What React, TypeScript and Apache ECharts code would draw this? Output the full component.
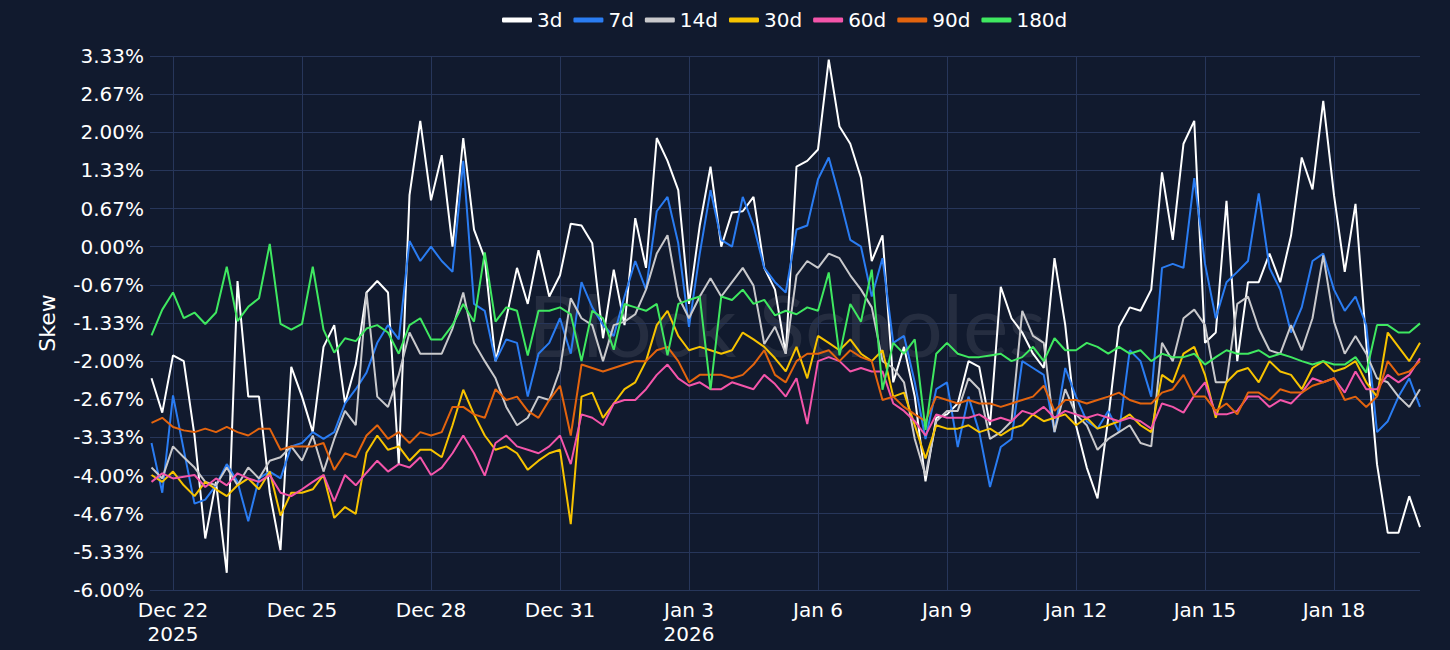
import { useEffect, useRef } from "react";
import * as echarts from "echarts";

// sampling: one value every 6 hours, x in days from Dec 22 2025 00:00
const sampleStart = -0.5;
const sampleStep = 0.25;

const tickDays = [0, 3, 6, 9, 12, 15, 18, 21, 24, 27];
const tickLabels = ["Dec 22\n2025", "Dec 25", "Dec 28", "Dec 31", "Jan 3\n2026", "Jan 6", "Jan 9", "Jan 12", "Jan 15", "Jan 18"];

const seriesNames = ["3d", "7d", "14d", "30d", "60d", "90d", "180d"];
const seriesColors = ["#ffffff", "#2a7cf2", "#c9c9cc", "#f7c300", "#f455aa", "#e3640e", "#3fe860"];

const skew3d = [
  -2.3, -2.9, -1.9, -2.0, -3.3, -5.1, -4.11, -5.7, -0.6, -2.62,
  -2.62, -4.3, -5.3, -2.1, -2.62, -3.24, -1.75, -1.37, -2.74, -2.06,
  -0.8, -0.6, -0.8, -3.8, 0.9, 2.2, 0.81, 1.6, 0.0, 1.9,
  0.3, -0.2, -2.0, -1.25, -0.37, -1.0, -0.06, -0.87, -0.5, 0.4,
  0.37, 0.06, -1.6, -0.4, -1.37, 0.5, -0.37, 1.9, 1.5, 0.99,
  -1.0, 0.37, 1.4, 0.0, 0.6, 0.62, 0.87, -0.37, -0.75, -1.87,
  1.4, 1.5, 1.7, 3.27, 2.1, 1.8, 1.2, -0.25, 0.2, -2.37,
  -1.75, -2.62, -4.1, -2.99, -2.93, -2.74, -2.0, -2.1, -3.12, -0.7,
  -1.25, -1.5, -1.87, -2.12, -0.2, -1.37, -3.12, -3.86, -4.4, -3.0,
  -1.4, -1.06, -1.12, -0.75, 1.3, 0.12, 1.8, 2.2, -1.68, -1.5,
  0.8, -2.0, -0.62, -0.62, -0.12, -0.62, 0.19, 1.56, 1.0, 2.55,
  0.9, -0.44, 0.75, -1.68, -3.8, -5.0, -5.0, -4.36, -4.9,
];

const skew7d = [
  -3.43, -4.3, -2.6, -3.55, -4.49, -4.42, -4.17, -3.8, -4.11, -4.8,
  -4.05, -3.93, -4.05, -3.49, -3.43, -3.24, -3.36, -3.24, -2.74, -2.49,
  -2.2, -1.68, -1.37, -1.62, 0.1, -0.25, 0.0, -0.25, -0.44, 1.5,
  -1.0, -1.12, -2.0, -1.62, -1.68, -2.62, -1.87, -1.68, -1.25, -1.87,
  -0.62, -1.06, -1.37, -1.56, -0.87, -0.25, -0.75, 0.62, 0.87, 0.06,
  -1.4, -0.12, 0.99, 0.12, 0.0, 0.87, 0.37, -0.37, -0.62, -0.8,
  0.3, 0.37, 1.18, 1.56, 0.87, 0.12, 0.0, -0.87, -0.2, -1.68,
  -1.56, -2.37, -3.36, -2.49, -2.37, -3.5, -2.62, -3.24, -4.2, -3.5,
  -3.36, -2.0, -2.12, -2.24, -3.24, -2.12, -2.62, -3.05, -3.18, -2.87,
  -3.24, -1.81, -2.0, -2.62, -0.37, -0.3, -0.37, 1.2, -0.3, -1.25,
  -0.62, -0.44, -0.25, 0.93, -0.37, -0.75, -1.5, -1.06, -0.25, -0.12,
  -0.75, -1.12, -0.87, -1.37, -3.24, -3.05, -2.62, -2.3, -2.8,
];

const skew14d = [
  -3.86, -4.05, -3.49, -3.68, -3.86, -4.11, -4.17, -3.86, -4.17, -3.86,
  -4.05, -3.74, -3.68, -3.49, -3.74, -3.3, -3.93, -3.36, -2.87, -3.12,
  -0.8, -2.62, -2.8, -2.24, -1.5, -1.87, -1.87, -1.87, -1.43, -0.8,
  -1.68, -2.0, -2.3, -2.8, -3.12, -2.99, -2.62, -2.68, -2.15, -0.9,
  -1.25, -1.37, -2.0, -1.37, -1.31, -1.18, -0.75, -0.12, 0.2, -0.87,
  -1.25, -0.87, -0.55, -0.87, -0.62, -0.37, -0.68, -1.7, -1.4, -1.87,
  -0.5, -0.25, -0.37, -0.12, -0.2, -0.5, -0.75, -1.06, -2.0, -2.12,
  -2.37, -3.36, -4.0, -3.05, -2.87, -2.87, -2.3, -2.49, -3.36, -3.24,
  -3.05, -1.12, -1.56, -1.68, -3.24, -2.49, -2.93, -3.12, -3.55, -3.36,
  -3.24, -3.12, -3.43, -3.49, -1.68, -2.0, -1.25, -1.1, -1.37, -2.37,
  -2.37, -1.0, -0.87, -1.43, -1.81, -1.87, -1.37, -1.81, -1.25, -0.15,
  -1.31, -1.87, -1.56, -1.87, -2.3, -2.37, -2.62, -2.8, -2.49,
];

const skew30d = [
  -3.99, -4.11, -3.93, -4.17, -4.36, -4.11, -4.24, -4.36, -4.17, -4.05,
  -4.24, -3.93, -4.7, -4.3, -4.3, -4.24, -3.99, -4.74, -4.55, -4.67,
  -3.6, -3.3, -3.55, -3.49, -3.74, -3.55, -3.55, -3.68, -3.12, -2.5,
  -2.93, -3.3, -3.55, -3.49, -3.61, -3.9, -3.74, -3.61, -3.55, -4.85,
  -2.62, -2.55, -2.99, -2.74, -2.49, -2.37, -2.0, -1.37, -1.12, -1.56,
  -1.81, -1.75, -1.81, -1.87, -1.81, -1.5, -1.62, -1.75, -1.95, -2.18,
  -1.75, -2.3, -1.56, -1.68, -1.81, -1.62, -1.87, -2.0, -1.81, -2.62,
  -2.55, -3.12, -3.7, -3.12, -3.18, -3.18, -3.12, -3.24, -3.18, -3.3,
  -3.18, -3.12, -2.93, -3.05, -2.99, -2.93, -3.12, -2.99, -3.18, -3.12,
  -3.05, -2.93, -3.12, -3.24, -2.24, -2.37, -1.87, -1.75, -2.24, -2.99,
  -2.37, -2.18, -2.12, -2.37, -2.0, -2.18, -2.24, -2.49, -2.12, -2.0,
  -2.18, -2.12, -2.0, -2.37, -2.62, -1.5, -1.75, -2.0, -1.68,
];

const skew60d = [
  -4.11, -3.96, -4.05, -4.02, -3.99, -4.2, -4.05, -4.17, -3.96, -4.05,
  -4.11, -3.99, -4.3, -4.36, -4.24, -4.11, -3.99, -4.45, -3.99, -4.17,
  -3.95, -3.74, -3.93, -3.8, -3.86, -3.68, -3.99, -3.86, -3.61, -3.3,
  -3.61, -4.0, -3.43, -3.3, -3.49, -3.55, -3.61, -3.49, -3.3, -3.8,
  -2.93, -2.99, -3.12, -2.74, -2.68, -2.68, -2.49, -2.24, -2.06, -2.3,
  -2.43, -2.37, -2.49, -2.49, -2.37, -2.43, -2.49, -2.24, -2.4, -2.62,
  -2.3, -3.1, -2.0, -1.93, -2.0, -2.18, -2.12, -2.18, -2.18, -2.74,
  -2.87, -3.05, -3.3, -2.93, -2.99, -2.99, -2.99, -2.93, -3.05, -2.99,
  -3.05, -2.87, -2.93, -2.8, -2.99, -2.87, -2.93, -2.99, -2.93, -2.99,
  -3.05, -2.99, -3.05, -3.18, -2.74, -2.8, -2.9, -2.6, -2.37, -2.93,
  -2.93, -2.87, -2.62, -2.62, -2.8, -2.68, -2.74, -2.55, -2.3, -2.37,
  -2.3, -2.55, -2.18, -2.49, -2.49, -2.24, -2.37, -2.24, -1.95,
];

const skew90d = [
  -3.08, -2.99, -3.15, -3.21, -3.24, -3.18, -3.24, -3.15, -3.24, -3.3,
  -3.18, -3.18, -3.55, -3.49, -3.49, -3.49, -3.43, -3.9, -3.61, -3.68,
  -3.3, -3.12, -3.36, -3.24, -3.43, -3.24, -3.3, -3.24, -2.8, -2.8,
  -2.93, -2.99, -2.49, -2.68, -2.62, -2.87, -2.99, -2.68, -2.43, -3.3,
  -2.06, -2.12, -2.18, -2.12, -2.06, -2.0, -2.0, -1.81, -1.75, -2.0,
  -2.37, -2.24, -2.24, -2.24, -2.3, -2.24, -2.06, -1.81, -2.24, -2.37,
  -2.0, -1.87, -1.87, -1.81, -2.0, -1.81, -1.93, -2.0, -2.68, -2.62,
  -2.8, -2.93, -3.05, -2.62, -2.68, -2.74, -2.68, -2.74, -2.74, -2.8,
  -2.74, -2.68, -2.62, -2.43, -2.87, -2.68, -2.68, -2.74, -2.68, -2.62,
  -2.55, -2.68, -2.74, -2.74, -2.55, -2.49, -2.24, -2.62, -2.62, -2.87,
  -2.74, -2.93, -2.55, -2.55, -2.68, -2.49, -2.55, -2.55, -2.43, -2.37,
  -2.3, -2.68, -2.62, -2.8, -2.62, -2.0, -2.24, -2.18, -2.0,
];

const skew180d = [
  -1.55, -1.1, -0.8, -1.25, -1.15, -1.35, -1.15, -0.35, -1.3, -1.05,
  -0.9, 0.05, -1.35, -1.45, -1.35, -0.35, -1.45, -1.85, -1.6, -1.65,
  -1.43, -1.37, -1.5, -1.87, -1.37, -1.25, -1.62, -1.62, -1.37, -1.0,
  -1.31, -0.1, -1.31, -1.06, -1.12, -1.9, -1.12, -1.12, -1.06, -1.18,
  -2.0, -1.12, -1.25, -1.8, -1.0, -1.06, -1.12, -1.0, -1.9, -1.0,
  -0.93, -0.87, -2.5, -0.87, -0.93, -0.75, -1.0, -0.93, -1.2, -1.12,
  -1.18, -1.06, -1.12, -0.45, -1.9, -1.0, -1.31, -0.4, -2.5, -1.68,
  -1.87, -1.62, -3.2, -1.87, -1.68, -1.87, -1.93, -1.93, -1.9, -1.87,
  -2.0, -1.93, -1.75, -2.0, -1.6, -1.81, -1.81, -1.68, -1.75, -1.87,
  -1.75, -1.87, -1.81, -2.0, -1.87, -1.93, -1.93, -1.87, -2.06, -1.93,
  -1.81, -1.87, -1.87, -1.81, -1.93, -1.87, -1.93, -2.0, -2.06, -2.0,
  -2.06, -2.06, -1.93, -2.2, -1.37, -1.37, -1.5, -1.5, -1.34,
];

const allSeries = [skew3d, skew7d, skew14d, skew30d, skew60d, skew90d, skew180d];

const font = "DejaVu Sans";

export default function App() {
  const chartRef = useRef<HTMLDivElement>(null);

  useEffect(() => {
    if (!chartRef.current) return;
    const chart = echarts.init(chartRef.current, null, { renderer: "svg" });

    chart.setOption({
      animation: false,
      backgroundColor: "#111a2e",
      textStyle: { fontFamily: font },
      grid: { left: 150, right: 30, top: 56, bottom: 60 },
      legend: {
        top: 5,
        left: 497,
        icon: "roundRect",
        itemWidth: 30,
        itemHeight: 5,
        itemGap: 11,
        textStyle: { color: "#ffffff", fontSize: 20, fontFamily: font },
        data: seriesNames,
      },
      graphic: [
        {
          type: "text",
          left: 528,
          top: 280,
          z: 0,
          silent: true,
          style: {
            text: "Block Scholes",
            fontFamily: "Lato",
            fontSize: 86,
            fill: "rgba(190, 190, 195, 0.12)",
          },
        },
      ],
      xAxis: {
        type: "value",
        min: -0.535,
        max: 29.0,
        axisLine: { show: false },
        axisTick: { show: false, customValues: tickDays },
        splitLine: { show: true, lineStyle: { color: "#27365a", width: 1 } },
        axisLabel: {
          customValues: tickDays,
          color: "#ffffff",
          fontSize: 20,
          fontFamily: font,
          lineHeight: 24,
          margin: 8,
          formatter: (v: number) => tickLabels[Math.round(v / 3)] ?? "",
        },
      },
      yAxis: {
        type: "value",
        min: -6,
        max: 3.3333,
        interval: 2 / 3,
        name: "Skew",
        nameLocation: "middle",
        nameGap: 92,
        nameTextStyle: { color: "#ffffff", fontSize: 22, fontFamily: font },
        axisLine: { show: false },
        axisTick: { show: false },
        splitLine: { lineStyle: { color: "#27365a", width: 1 } },
        axisLabel: {
          color: "#ffffff",
          fontSize: 20,
          fontFamily: font,
          margin: 6,
          formatter: (v: number) => (Math.abs(v) < 1e-9 ? 0 : v).toFixed(2) + "%",
        },
      },
      series: seriesNames.map((name, k) => ({
        name,
        type: "line",
        symbol: "none",
        z: 3,
        itemStyle: { color: seriesColors[k] },
        lineStyle: { color: seriesColors[k], width: 2 },
        data: allSeries[k].map((v, i) => [sampleStart + sampleStep * i, v]),
      })),
    });

    return () => {
      chart.dispose();
    };
  }, []);

  return (
    <div
      ref={chartRef}
      style={{ position: "absolute", left: 0, top: 0, width: 1450, height: 650 }}
    />
  );
}
